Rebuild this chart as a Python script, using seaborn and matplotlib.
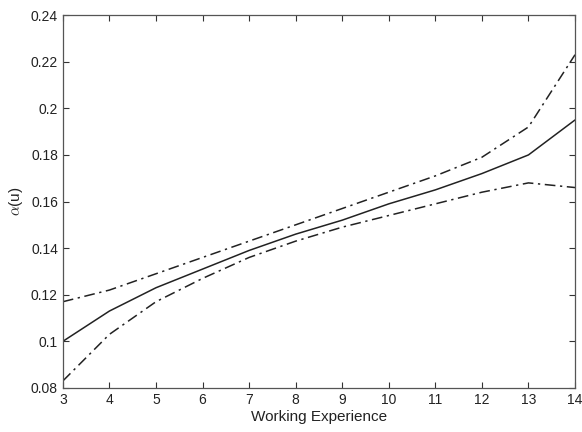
import numpy as np
import pandas as pd
import matplotlib
matplotlib.use('Agg')
import matplotlib.pyplot as plt
import seaborn as sns

sns.set_style('ticks')
plt.rcParams['font.family'] = ['Liberation Sans', 'DejaVu Sans']
plt.rcParams['mathtext.fontset'] = 'cm'

# data
experience = [3, 4, 5, 6, 7, 8, 9, 10, 11, 12, 13, 14]
alpha_est = [0.100, 0.113, 0.123, 0.131, 0.139, 0.146, 0.152, 0.159, 0.165, 0.172, 0.180, 0.195]
alpha_upper = [0.117, 0.122, 0.129, 0.136, 0.143, 0.150, 0.157, 0.164, 0.171, 0.179, 0.192, 0.223]
alpha_lower = [0.083, 0.103, 0.117, 0.127, 0.136, 0.143, 0.149, 0.154, 0.159, 0.164, 0.168, 0.166]

df = pd.DataFrame({'x': experience, 'est': alpha_est, 'up': alpha_upper, 'lo': alpha_lower})

fig = plt.figure(figsize=(5.82, 4.32), dpi=100)
ax = fig.add_axes([0.108, 0.102, 0.88, 0.863])

sns.lineplot(data=df, x='x', y='est', ax=ax, color='#222222', lw=1.1)
sns.lineplot(data=df, x='x', y='up', ax=ax, color='#222222', lw=1.1, linestyle=(0, (7, 3, 1.5, 3)))
sns.lineplot(data=df, x='x', y='lo', ax=ax, color='#222222', lw=1.1, linestyle=(0, (7, 3, 1.5, 3)))

ax.set_xlim(3, 14)
ax.set_ylim(0.08, 0.24)
ax.set_xticks(experience)
yt = [0.08, 0.1, 0.12, 0.14, 0.16, 0.18, 0.2, 0.22, 0.24]
ax.set_yticks(yt)
ax.set_yticklabels(['0.08', '0.1', '0.12', '0.14', '0.16', '0.18', '0.2', '0.22', '0.24'])
ax.tick_params(direction='in', top=True, right=True, labelsize=10, length=4, colors='#333333', labelcolor='#222222')
for s in ax.spines.values():
    s.set_color('#555555')
    s.set_linewidth(0.9)

ax.set_xlabel('Working Experience', fontsize=11, color='#222222', labelpad=2)
ax.set_ylabel(r'$\alpha$(u)', fontsize=11, color='#222222', labelpad=4)

fig.savefig('out.png', dpi=100)
